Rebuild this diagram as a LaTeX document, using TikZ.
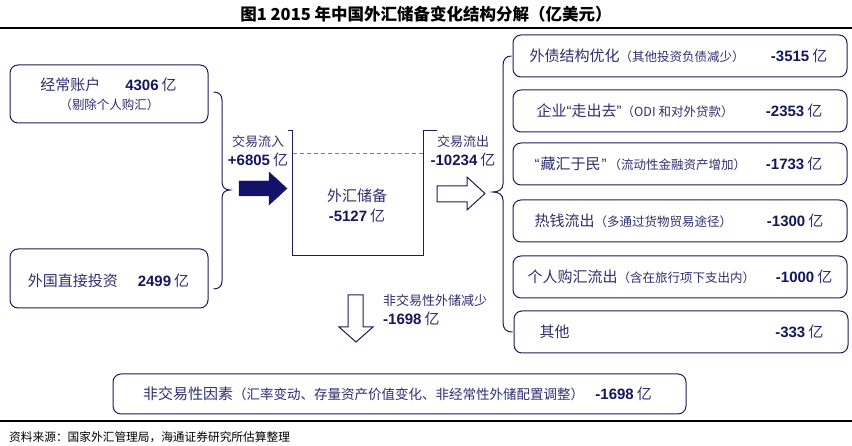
\documentclass[tikz,border=0pt]{standalone}
\usepackage{fontspec}
\setmainfont{Noto Sans CJK SC}
\newfontfamily\arialf{Liberation Sans}
\usetikzlibrary{calc}
\definecolor{navy}{HTML}{1C1C5C}
\definecolor{txt}{HTML}{2F2F6F}
\definecolor{numc}{HTML}{16165E}
\definecolor{arrowc}{HTML}{12126A}
\newcommand\yi[1]{{\arialf\bfseries\color{numc}#1}\hspace{3pt}亿}
\newcommand\smallf{\fontsize{12.5}{14}\selectfont}
\begin{document}
\begin{tikzpicture}[x=1pt,y=-1pt,
  conn/.style={draw=navy,line width=1pt},
  lbox/.style={draw=navy,line width=1pt,rounded corners=8pt,inner sep=0pt},
  rbox/.style={lbox,minimum width=334pt,minimum height=42pt},
  big/.style={font=\fontsize{15}{18}\selectfont,text=txt,inner sep=0pt},
  mid/.style={font=\fontsize{13}{15}\selectfont,text=txt,inner sep=0pt},
  sml/.style={font=\smallf,text=txt,inner sep=0pt},
  hollow/.style={draw=navy,line width=1pt,fill=white},
  solidarrow/.style={draw=arrowc,fill=arrowc}]
\useasboundingbox (0,0) rectangle (852,446);
\fill[white] (0,0) rectangle (852,446);

% title and rules
\node[font=\fontsize{16.5}{20}\selectfont\bfseries,inner sep=0pt] (title) at (426,14) {图1 2015 年中国外汇储备变化结构分解（亿美元）};
\draw[line width=1.5pt] (0,28) -- (852,28);
\draw[line width=1.5pt] (0,421) -- (852,421);
\node[font=\fontsize{11.7}{13}\selectfont,anchor=west,inner sep=0pt] (src) at (9,437) {资料来源：国家外汇管理局，海通证券研究所估算整理};

% left boxes
\node[lbox,minimum width=198pt,minimum height=58pt] (b1) at (109,94) {};
\node[big] (b1t) at (108.5,85) {经常账户\hspace{25pt}\yi{4306}};
\node[sml] (b1s) at (109.5,105) {（剔除个人购汇）};
\node[lbox,minimum width=198pt,minimum height=59pt] (b2) at (109,278.5) {};
\node[big] (b2t) at (108.5,281) {外国直接投资\hspace{20pt}\yi{2499}};

% left brace
\draw[conn] ($(b1.east)+(5,-2)$) .. controls (219,92) and (222,95) .. (222,100) -- (222,182)
  .. controls (222,187) and (225,190) .. (230,190) .. controls (225,190) and (222,193) .. (222,198)
  -- (222,281) .. controls (222,286) and (219,289) .. ($(b2.east)+(5,10.5)$);

% inflow
\node[mid] (inl) at (258,142) {交易流入};
\node[big] (inn) at (258,160) {\yi{+6805}};
\draw[solidarrow] (239,181) -- (269,181) -- (269,172) -- (287,188.5) -- (269,205) -- (269,196) -- (239,196) -- cycle;

% reserves container
\node[minimum width=130pt,minimum height=124pt,inner sep=0pt] (res) at (358,193) {};
\draw[conn] ($(res.north west)+(-5,0)$) -- (res.north west) -- (res.south west) -- (res.south east) -- (res.north east) -- ++(14,0);
\draw[gray,line width=0.7pt,dash pattern=on 4pt off 3pt] ($(res.north west)+(0,23)$) -- ($(res.north east)+(0,23)$);
\node[big] (rest1) at (357,196) {外汇储备};
\node[big] (rest2) at (357,216) {\yi{-5127}};

% outflow
\node[mid] (outl) at (463,142) {交易流出};
\node[big] (outn) at (463,160) {\yi{-10234}};
\draw[hollow] (437,186) -- (467,186) -- (467,177) -- (485,193.5) -- (467,210) -- (467,202) -- (437,202) -- cycle;

% down arrow
\draw[hollow] (348,295) -- (363,295) -- (363,327) -- (373,327) -- (356,342) -- (339,327) -- (348,327) -- cycle;
\node[mid,anchor=west] (nl) at (383,301) {非交易性外储减少};
\node[big,anchor=west] (nn) at (383,319) {\yi{-1698}};

% right boxes
\node[rbox] (r1) at (680,56) {};
\node[big,anchor=west] (r1a) at ($(r1.west)+(17,0)$) {外债结构优化{\smallf（其他投资负债减少）}};
\node[big,anchor=east] (r1b) at ($(r1.east)+(-20,0)$) {\yi{-3515}};
\node[rbox] (r2) at (680,111) {};
\node[big,anchor=west] (r2a) at ($(r2.west)+(24,0)$) {企业{\arialf “}走出去{\arialf ”}{\smallf（ODI 和对外贷款）}};
\node[big,anchor=east] (r2b) at ($(r2.east)+(-25,0)$) {\yi{-2353}};
\node[rbox] (r3) at (680,164) {};
\node[big,anchor=west] (r3a) at ($(r3.west)+(22,0)$) {{\arialf “}\hspace{1pt}藏汇于民\hspace{1pt}{\arialf ”}\hspace{2pt}{\smallf（流动性金融资产增加）}};
\node[big,anchor=east] (r3b) at ($(r3.east)+(-25,0)$) {\yi{-1733}};
\node[rbox] (r4) at (680,221) {};
\node[big,anchor=west] (r4a) at ($(r4.west)+(22,0)$) {热钱流出{\smallf（多通过货物贸易途径）}};
\node[big,anchor=east] (r4b) at ($(r4.east)+(-24,0)$) {\yi{-1300}};
\node[rbox] (r5) at (680,277) {};
\node[big,anchor=west] (r5a) at ($(r5.west)+(15,0)$) {个人购汇流出{\smallf（含在旅行项下支出内）}};
\node[big,anchor=east] (r5b) at ($(r5.east)+(-15,0)$) {\yi{-1000}};
\node[rbox] (r6) at (681,332) {};
\node[big,anchor=west] (r6a) at ($(r6.west)+(26,0)$) {其他};
\node[big,anchor=east] (r6b) at ($(r6.east)+(-25,0)$) {\yi{-333}};

% right brace
\draw[conn] ($(r1.west)+(-1,0)$) .. controls (506,56) and (503,59) .. (503,66) -- (503,184)
  .. controls (503,189) and (499,192) .. (493,192) .. controls (499,192) and (503,195) .. (503,200)
  -- (503,322) .. controls (503,329) and (506,332) .. ($(r6.west)+(-1,0)$);

% bottom box
\node[lbox,minimum width=573pt,minimum height=40pt] (bb) at (399.5,394) {};
\node[big,anchor=west] (bbt) at (143,394) {非交易性因素{\fontsize{13.5}{15}\selectfont（汇率变动、存量资产价值变化、非经常性外储配置调整）}};
\node[big,anchor=east] (bbn) at (652,394) {\yi{-1698}};
\end{tikzpicture}
\end{document}
